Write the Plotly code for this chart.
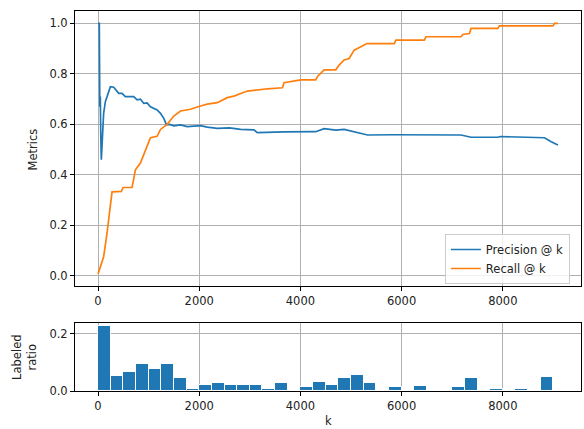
import plotly.graph_objects as go

# ---- data ----
recall_k = [0, 45, 111, 178, 277, 461, 495, 673, 739, 838, 937, 1036, 1168, 1234, 1366, 1497,
            1630, 1828, 2026, 2158, 2356, 2554, 2686, 2950, 3346, 3644, 3677, 4006, 4303, 4337,
            4468, 4699, 4765, 4864, 4963, 5062, 5194, 5313, 5854, 5887, 6448, 6481, 7174, 7208,
            7340, 7372, 7901, 7933, 8990, 9022, 9089]
recall_v = [0.008, 0.037, 0.076, 0.169, 0.333, 0.335, 0.35, 0.35, 0.42, 0.447, 0.5, 0.547, 0.553,
            0.58, 0.6, 0.633, 0.653, 0.66, 0.673, 0.68, 0.686, 0.706, 0.712, 0.732, 0.741, 0.745,
            0.765, 0.776, 0.776, 0.79, 0.816, 0.816, 0.835, 0.855, 0.861, 0.894, 0.907, 0.92,
            0.92, 0.934, 0.934, 0.947, 0.947, 0.956, 0.96, 0.98, 0.98, 0.99, 0.99, 1.0, 1.0]

prec_k = [0, 25, 35, 45, 55, 65, 80, 111, 145, 178, 210, 244, 310, 409, 475, 540, 607, 706, 772,
          838, 904, 970, 1036, 1100, 1168, 1234, 1300, 1353, 1420, 1497, 1630, 1762, 2026, 2158,
          2356, 2600, 2818, 3082, 3148, 3677, 4006, 4303, 4468, 4699, 4864, 5062, 5194, 5327,
          5854, 6448, 7174, 7372, 7901, 7950, 8824, 8956, 9089]
prec_v = [1.0, 1.0, 0.67, 0.71, 0.55, 0.46, 0.52, 0.644, 0.69, 0.71, 0.736, 0.749, 0.747, 0.723,
          0.723, 0.71, 0.71, 0.71, 0.697, 0.70, 0.683, 0.685, 0.67, 0.665, 0.657, 0.644, 0.624,
          0.598, 0.6, 0.594, 0.598, 0.591, 0.595, 0.589, 0.584, 0.586, 0.58, 0.578, 0.567, 0.57,
          0.572, 0.571, 0.583, 0.577, 0.58, 0.571, 0.565, 0.558, 0.559, 0.558, 0.558, 0.549,
          0.549, 0.552, 0.547, 0.531, 0.518]

bin_width = 250
labeled_ratio = [0.228, 0.053, 0.068, 0.095, 0.078, 0.095, 0.047, 0.007, 0.02, 0.027, 0.02, 0.02,
                 0.02, 0.007, 0.027, 0.0, 0.013, 0.03, 0.02, 0.047, 0.056, 0.027, 0.0, 0.013, 0.0,
                 0.016, 0.0, 0.0, 0.013, 0.047, 0.0, 0.007, 0.0, 0.007, 0.0, 0.05]
bin_centers = [i * bin_width + bin_width / 2 for i in range(len(labeled_ratio))]

x_ticks = [0, 2000, 4000, 6000, 8000]
top_y_ticks = [0.0, 0.2, 0.4, 0.6, 0.8, 1.0]
bot_y_ticks = [0.0, 0.2]

BLUE = "#1f77b4"
ORANGE = "#ff7f0e"
FONT = "DejaVu Sans"
FS = 11.5
TXT = "#222222"

fig = go.Figure()
fig.add_trace(go.Scatter(x=prec_k, y=prec_v, mode="lines", name="Precision @ k",
                         line=dict(color=BLUE, width=1.7), xaxis="x", yaxis="y"))
fig.add_trace(go.Scatter(x=recall_k, y=recall_v, mode="lines", name="Recall @ k",
                         line=dict(color=ORANGE, width=1.7), xaxis="x", yaxis="y"))
fig.add_trace(go.Bar(x=bin_centers, y=labeled_ratio, width=bin_width, showlegend=False,
                     marker=dict(color=BLUE, line=dict(color="white", width=1)),
                     xaxis="x2", yaxis="y2"))

axis_common = dict(showline=True, mirror=True, linecolor="black", linewidth=1,
                   ticks="outside", ticklen=4, tickcolor="black", tickwidth=1,
                   showgrid=True, gridcolor="#b0b0b0", gridwidth=0.8, zeroline=False,
                   automargin=False,
                   tickfont=dict(family=FONT, size=FS, color=TXT))

xr = [-455, 9545]
fig.update_layout(
    width=584, height=429,
    margin=dict(l=75, r=3, t=11, b=38),
    paper_bgcolor="white", plot_bgcolor="white",
    font=dict(family=FONT, size=FS, color=TXT),
    xaxis=dict(domain=[0, 1], range=xr, tickvals=x_ticks, anchor="y", **axis_common),
    yaxis=dict(domain=[0.2763, 1], range=[-0.04, 1.049], tickvals=top_y_ticks,
               tickformat=".1f", anchor="x", **axis_common),
    xaxis2=dict(domain=[0, 1], range=xr, tickvals=x_ticks, anchor="y2", **axis_common),
    yaxis2=dict(domain=[0, 0.179], range=[0, 0.2386], tickvals=bot_y_ticks,
                tickformat=".1f", anchor="x2", **axis_common),
    bargap=0,
    legend=dict(x=0.978, y=0.2816, xanchor="right", yanchor="bottom",
                bgcolor="rgba(255,255,255,0.8)", bordercolor="#cccccc", borderwidth=1,
                font=dict(family=FONT, size=FS, color=TXT),
                itemwidth=30, tracegroupgap=0),
    showlegend=True,
)

fig.add_annotation(text="Metrics", xref="paper", yref="paper", x=-0.084, y=0.637,
                   xanchor="center", yanchor="middle",
                   textangle=-90, showarrow=False, font=dict(family=FONT, size=FS, color=TXT))
fig.add_annotation(text="Labeled<br>ratio", xref="paper", yref="paper", x=-0.099, y=0.0895,
                   xanchor="center", yanchor="middle",
                   textangle=-90, showarrow=False, font=dict(family=FONT, size=FS, color=TXT))
fig.add_annotation(text="k", xref="paper", yref="paper", x=0.5, y=-0.079,
                   xanchor="center", yanchor="middle",
                   showarrow=False, font=dict(family=FONT, size=FS, color=TXT))

fig.write_html("out.html", config={"displayModeBar": False},
               post_script="document.body.style.margin='0';")
